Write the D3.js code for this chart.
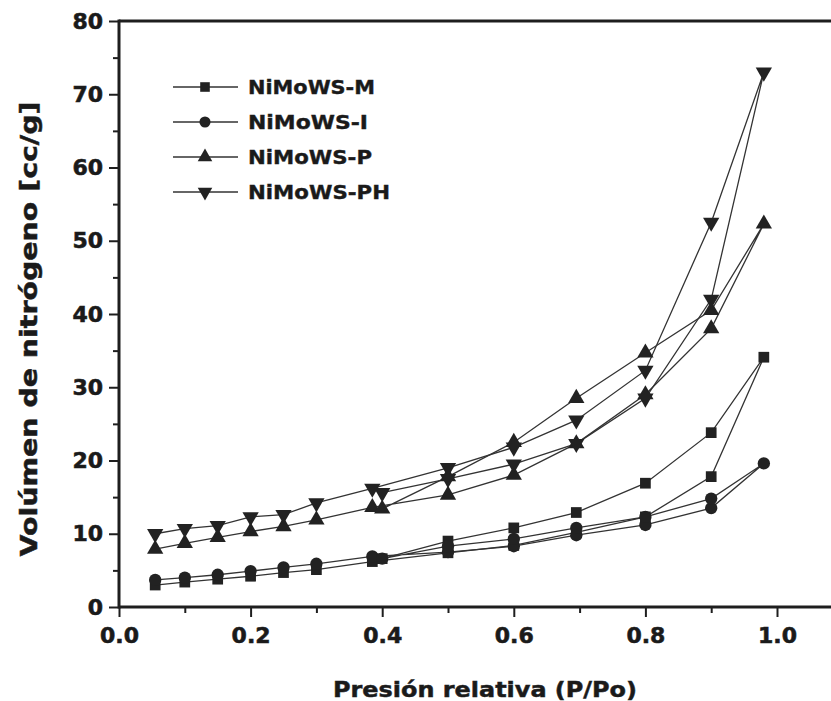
<!DOCTYPE html>
<html>
<head>
<meta charset="utf-8">
<script src="https://cdn.jsdelivr.net/npm/d3@7"></script>
<style>
  html, body { margin: 0; padding: 0; background: #fff; }
  svg { display: block; }
  text { font-family: "DejaVu Sans", Verdana, sans-serif; font-weight: bold; fill: #1a1a1a; }
</style>
</head>
<body>
<svg id="chart" width="831" height="701"></svg>
<script>
// ---- data (relative pressure P/Po, volume cc/g) ----
const xAdsorption = [0.055, 0.1, 0.15, 0.2, 0.25, 0.3, 0.385, 0.5, 0.6, 0.695, 0.8, 0.9, 0.98];
const xDesorption = [0.9, 0.8, 0.695, 0.6, 0.5, 0.4];

const seriesNames = ["NiMoWS-M", "NiMoWS-I", "NiMoWS-P", "NiMoWS-PH"];

const adsM  = [3.0, 3.4, 3.8, 4.2, 4.7, 5.1, 6.2, 7.4, 8.4, 10.2, 12.3, 17.8, 34.1];
const desM  = [23.8, 16.9, 12.9, 10.8, 9.0, 6.6];
const adsI  = [3.7, 4.0, 4.4, 4.9, 5.4, 5.9, 6.9, 7.5, 8.3, 9.8, 11.2, 13.5, 19.6];
const desI  = [14.8, 12.3, 10.8, 9.3, 8.3, 6.6];
const adsP  = [7.9, 8.7, 9.5, 10.3, 11.0, 11.9, 13.6, 15.3, 18.0, 22.3, 29.0, 38.0, 52.3];
const desP  = [40.5, 34.7, 28.5, 22.5, 17.8, 13.4];
const adsPH = [10.0, 10.7, 11.1, 12.3, 12.6, 14.2, 16.2, 19.0, 21.8, 25.5, 32.3, 52.5, 73.0];
const desPH = [42.0, 28.5, 22.3, 19.5, 17.5, 15.6];

const xTicks = [0, 0.2, 0.4, 0.6, 0.8, 1.0];
const xMinor = [0.1, 0.3, 0.5, 0.7, 0.9];
const yTicks = [0, 10, 20, 30, 40, 50, 60, 70, 80];
const yMinor = [5, 15, 25, 35, 45, 55, 65, 75];

const xTitle = "Presión relativa (P/Po)";
const yTitle = "Volúmen de nitrógeno [cc/g]";

// ---- build ----
const adsSets = [adsM, adsI, adsP, adsPH];
const desSets = [desM, desI, desP, desPH];
const symbols = [d3.symbolSquare, d3.symbolCircle, d3.symbolTriangle, d3.symbolTriangle];
const symbolSize = [115, 120, 115, 115];
const symbolRot = [0, 0, 0, 180];
const legendTextLen = [127, 120, 124, 142];

const series = seriesNames.map((name, i) => ({
  name,
  points: xAdsorption.map((xv, j) => ({x: xv, y: adsSets[i][j]}))
    .concat(xDesorption.map((xv, j) => ({x: xv, y: desSets[i][j]}))),
  symbol: symbols[i], size: symbolSize[i], rot: symbolRot[i]
}));

const svg = d3.select("#chart");
const mLeft = 119, mRight = 777, mTop = 21, mBottom = 607;
const x = d3.scaleLinear().domain([0, 1]).range([mLeft, mRight]);
const y = d3.scaleLinear().domain([0, 80]).range([mBottom, mTop]);

const ink = "#1e1e1e";

// axes
const gx = svg.append("g").attr("transform", `translate(0,${mBottom})`)
  .call(d3.axisBottom(x).tickValues(xTicks).tickFormat(d3.format(".1f")).tickSize(10).tickPadding(10));
const gxm = svg.append("g").attr("transform", `translate(0,${mBottom})`)
  .call(d3.axisBottom(x).tickValues(xMinor).tickFormat("").tickSize(6));
const gy = svg.append("g").attr("transform", `translate(${mLeft},0)`)
  .call(d3.axisLeft(y).tickValues(yTicks).tickFormat(d3.format("d")).tickSize(10).tickPadding(6));
const gym = svg.append("g").attr("transform", `translate(${mLeft},0)`)
  .call(d3.axisLeft(y).tickValues(yMinor).tickFormat("").tickSize(6));

[gx, gxm, gy, gym].forEach(g => {
  g.select(".domain").remove();
  g.selectAll(".tick line").attr("stroke", ink).attr("stroke-width", 2);
  g.selectAll(".tick text").attr("font-size", 22).attr("fill", ink)
    .attr("stroke", ink).attr("stroke-width", 0.6)
    .style("font-family", '"DejaVu Sans", Verdana, sans-serif').style("font-weight", "bold");
});

// frame lines (plot box extends past right edge)
svg.append("line").attr("x1", mLeft).attr("x2", 840).attr("y1", mBottom).attr("y2", mBottom)
  .attr("stroke", ink).attr("stroke-width", 3);
svg.append("line").attr("x1", mLeft).attr("x2", 840).attr("y1", mTop).attr("y2", mTop)
  .attr("stroke", ink).attr("stroke-width", 3);
svg.append("line").attr("x1", mLeft).attr("x2", mLeft).attr("y1", mTop - 1.5).attr("y2", mBottom + 1.5)
  .attr("stroke", ink).attr("stroke-width", 3);

// lines
const line = d3.line().x(d => x(d.x)).y(d => y(d.y));
series.forEach(s => {
  svg.append("path").datum(s.points).attr("d", line)
    .attr("fill", "none").attr("stroke", "#333").attr("stroke-width", 1.3);
});
// markers
series.forEach(s => {
  svg.append("g").selectAll("path").data(s.points).join("path")
    .attr("d", d3.symbol().type(s.symbol).size(s.size))
    .attr("transform", d => `translate(${x(d.x)},${y(d.y)}) rotate(${s.rot})`)
    .attr("fill", "#222");
});

// legend
const legY = [87, 122, 157, 192];
series.forEach((s, i) => {
  const g = svg.append("g").attr("transform", `translate(0,${legY[i]})`);
  g.append("line").attr("x1", 173).attr("x2", 238).attr("stroke", "#333").attr("stroke-width", 1.3);
  g.append("path").attr("d", d3.symbol().type(s.symbol).size(s.size * 0.8)())
    .attr("transform", `translate(205,0) rotate(${s.rot})`).attr("fill", "#222");
  g.append("text").attr("x", 248).attr("y", 0).attr("dy", "0.36em")
    .attr("font-size", 19).attr("textLength", legendTextLen[i]).attr("lengthAdjust", "spacingAndGlyphs")
    .attr("stroke", ink).attr("stroke-width", 0.4)
    .text(s.name);
});

// titles
svg.append("text").attr("x", 485).attr("y", 697)
  .attr("text-anchor", "middle").attr("font-size", 22)
  .attr("textLength", 304).attr("lengthAdjust", "spacingAndGlyphs")
  .attr("stroke", ink).attr("stroke-width", 0.5)
  .text(xTitle);
svg.append("text").attr("transform", `translate(37,329) rotate(-90)`)
  .attr("text-anchor", "middle").attr("font-size", 23)
  .attr("textLength", 455).attr("lengthAdjust", "spacingAndGlyphs")
  .attr("stroke", ink).attr("stroke-width", 0.5)
  .text(yTitle);
</script>
</body>
</html>
